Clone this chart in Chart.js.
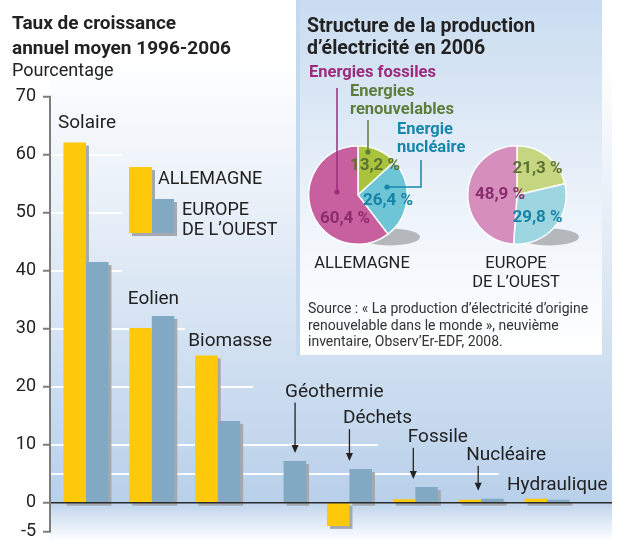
<!DOCTYPE html>
<html>
<head>
<meta charset="utf-8">
<script src="https://cdn.jsdelivr.net/npm/chart.js@4.4.1/dist/chart.umd.min.js"></script>
<style>
  html, body { margin: 0; padding: 0; background: #fff; }
  #wrap { position: relative; width: 618px; height: 543px; }
  canvas { position: absolute; }
</style>
</head>
<body>
<div id="wrap">
  <canvas id="bars" width="618" height="543" style="left:0;top:0"></canvas>
  <canvas id="pieDe" width="180" height="215" style="left:300px;top:55px"></canvas>
  <canvas id="pieEu" width="142" height="160" style="left:460px;top:130px"></canvas>
</div>
<script>
// ---- data ----
const categories = ['Solaire', 'Eolien', 'Biomasse', 'Géothermie', 'Déchets', 'Fossile', 'Nucléaire', 'Hydraulique'];
const allemagne = [62.1, 30.1, 25.4, 0, -4.0, 0.6, 0.5, 0.7];
const europeOuest = [41.5, 32.2, 14.1, 7.2, 5.8, 2.7, 0.7, 0.5];
const seriesNames = [['ALLEMAGNE'], ['EUROPE', 'DE L’OUEST']];
const yTicks = [-5, 0, 10, 20, 30, 40, 50, 60, 70];

const sliceNames = [['Energies', 'renouvelables'], ['Energie', 'nucléaire'], ['Energies fossiles']];
const allemagneMix = [13.2, 26.4, 60.4];
const europeMix = [21.3, 29.8, 48.9];
const pieCaptions = [['ALLEMAGNE'], ['EUROPE', 'DE L’OUEST']];

const titleLines = ['Taux de croissance', 'annuel moyen 1996-2006'];
const unitLabel = 'Pourcentage';
const insetTitle = ['Structure de la production', 'd’électricité en 2006'];
const sourceLines = [
  'Source : « La production d’électricité d’origine',
  'renouvelable dans le monde », neuvième',
  'inventaire, Observ’Er-EDF, 2008.'
];

// ---- style ----
const FONT = 'Roboto, "Noto Sans", sans-serif';
const INK = '#222';
const barColors = ['#fec80b', '#82a9c3'];
const SHADOW = '#a5a8ac';
const AXIS_X = 50;
const PANEL_RIGHT = 612;
// white guide lines: value -> right end (px)
const guideLines = [[5, 499], [10, 378], [20, 253], [30, 185], [40, 122], [50, 122], [60, 122]];
// category label placement: text left offset from category centre, baseline in y units, arrow offset
const labelLayout = [
  { dx: -28, y: 64.6 },
  { dx: -24, y: 34.3 },
  { dx: -29.5, y: 27.1 },
  { dx: 1.5, y: 18.3, arrow: 11.5 },
  { dx: -6.5, y: 13.7, arrow: 0 },
  { dx: -7.5, y: 10.5, arrow: -2 },
  { dx: -15, y: 7.4, arrow: -3 },
  { dx: -40, y: 2.2 }
];
const sliceColors = {
  de: ['#a9c33c', '#6dc5d6', '#c85f9f'],
  eu: ['#c6d680', '#9dd5e1', '#d68ebd']
};
const valueColors = ['#5b7233', '#1884a5', '#8b2c6c'];
const nameColors = ['#5e7d3a', '#1687ab', '#9c2b7b'];
// value label offsets from pie centre
const valueOffsets = {
  de: [[17, -29.5], [30, 6], [-13, 23.5]],
  eu: [[20.5, -26], [20.5, 23], [-17, 0]]
};
// call-outs for the Allemagne pie (offsets from pie centre)
const callouts = [
  { text: [-8, -99], path: [[10, -75], [10, -43]] },
  { text: [39, -61], path: [[63, -35], [63, -8], [29, -8]] },
  { text: [-49, -118], path: [[-21, -107], [-21, -3]] }
];

function txt(ctx, s, x, y, font, color, align) {
  ctx.font = font;
  ctx.fillStyle = color;
  ctx.textAlign = align || 'left';
  ctx.textBaseline = 'alphabetic';
  ctx.fillText(s, x, y);
}

const mainDecor = {
  id: 'mainDecor',
  beforeDraw(chart) {
    const { ctx, scales: { y } } = chart;
    const zero = y.getPixelForValue(0);
    ctx.save();
    let g = ctx.createLinearGradient(0, 60, 0, zero);
    g.addColorStop(0, '#ffffff');
    g.addColorStop(1, '#b9d0ea');
    ctx.fillStyle = g;
    ctx.fillRect(AXIS_X, 0, PANEL_RIGHT - AXIS_X, zero);
    g = ctx.createLinearGradient(0, zero, 0, 541);
    g.addColorStop(0, '#bed4ec');
    g.addColorStop(1, '#ffffff');
    ctx.fillStyle = g;
    ctx.fillRect(AXIS_X, zero, PANEL_RIGHT - AXIS_X, 543 - zero);

    // inset box
    ctx.fillStyle = '#c4d8ee';
    ctx.fillRect(296, 0, 4, 355);
    g = ctx.createLinearGradient(0, 0, 0, 355);
    g.addColorStop(0, '#c9dcf0');
    g.addColorStop(0.7, '#f3f7fc');
    g.addColorStop(1, '#ffffff');
    ctx.fillStyle = g;
    ctx.fillRect(300, 0, 302, 355);

    // titles
    txt(ctx, titleLines[0], 12, 28.5, 'bold 19px ' + FONT, INK);
    txt(ctx, titleLines[1], 12, 53.5, 'bold 19px ' + FONT, INK);
    txt(ctx, unitLabel, 12, 76, '18px ' + FONT, INK);
    txt(ctx, insetTitle[0], 307, 32, 'bold 19.5px ' + FONT, INK);
    txt(ctx, insetTitle[1], 307, 53.5, 'bold 19.5px ' + FONT, INK);

    // pie captions
    txt(ctx, pieCaptions[0][0], 362, 267.5, '16.5px ' + FONT, INK, 'center');
    txt(ctx, pieCaptions[1][0], 516, 267.5, '16.5px ' + FONT, INK, 'center');
    txt(ctx, pieCaptions[1][1], 516, 286.5, '16.5px ' + FONT, INK, 'center');

    // source
    sourceLines.forEach((s, i) => txt(ctx, s, 308, 313 + i * 16.5, '14px ' + FONT, '#333'));
    ctx.restore();
  },
  beforeDatasetsDraw(chart) {
    const { ctx, scales: { y } } = chart;
    ctx.save();
    ctx.strokeStyle = 'rgba(255,255,255,0.95)';
    ctx.lineWidth = 2;
    guideLines.forEach(([v, end]) => {
      const py = Math.round(y.getPixelForValue(v));
      ctx.beginPath();
      ctx.moveTo(AXIS_X, py);
      ctx.lineTo(end, py);
      ctx.stroke();
    });
    // bar shadows
    ctx.fillStyle = SHADOW;
    chart.data.datasets.forEach((ds, di) => {
      chart.getDatasetMeta(di).data.forEach((bar, i) => {
        if (!ds.data[i]) return;
        const { x, y: top, base, width } = bar.getProps(['x', 'y', 'base', 'width'], true);
        ctx.fillRect(x - width / 2 + 3, Math.min(top, base) + 3, width, Math.abs(base - top));
      });
    });
    ctx.restore();
  },
  afterDatasetsDraw(chart) {
    const { ctx, scales: { x, y } } = chart;
    const zero = y.getPixelForValue(0);
    ctx.save();
    // zero line
    ctx.strokeStyle = '#2b2b2b';
    ctx.lineWidth = 1.6;
    ctx.beginPath();
    ctx.moveTo(AXIS_X, zero);
    ctx.lineTo(PANEL_RIGHT, zero);
    ctx.stroke();
    // y axis + ticks
    ctx.strokeStyle = '#7d7d7d';
    ctx.lineWidth = 2;
    ctx.beginPath();
    ctx.moveTo(AXIS_X, y.getPixelForValue(70));
    ctx.lineTo(AXIS_X, y.getPixelForValue(-5));
    yTicks.forEach(v => {
      const py = y.getPixelForValue(v);
      ctx.moveTo(AXIS_X - 7, py);
      ctx.lineTo(AXIS_X + 1, py);
    });
    ctx.stroke();

    // category labels + arrows
    const metaA = chart.getDatasetMeta(0).data;
    const metaB = chart.getDatasetMeta(1).data;
    categories.forEach((name, i) => {
      const lay = labelLayout[i];
      const cx = x.getPixelForValue(i);
      const base = y.getPixelForValue(lay.y);
      txt(ctx, name, cx + lay.dx, base, '19px ' + FONT, INK);
      if (lay.arrow !== undefined) {
        const top = Math.min(metaA[i].y, metaB[i].y, zero);
        const ax = cx + lay.arrow;
        const tip = top - 8;
        ctx.strokeStyle = INK;
        ctx.fillStyle = INK;
        ctx.lineWidth = 1.3;
        ctx.beginPath();
        ctx.moveTo(ax, base + 6);
        ctx.lineTo(ax, tip - 6);
        ctx.stroke();
        ctx.beginPath();
        ctx.moveTo(ax - 3.5, tip - 8);
        ctx.lineTo(ax + 3.5, tip - 8);
        ctx.lineTo(ax, tip);
        ctx.closePath();
        ctx.fill();
      }
    });

    // legend
    ctx.fillStyle = SHADOW;
    ctx.fillRect(132, 170, 23, 66);
    ctx.fillRect(155, 202, 22, 34);
    ctx.fillStyle = barColors[0];
    ctx.fillRect(129, 167, 23, 66);
    ctx.fillStyle = barColors[1];
    ctx.fillRect(152, 199, 22, 34);
    txt(ctx, seriesNames[0][0], 158, 184, '18px ' + FONT, INK);
    txt(ctx, seriesNames[1][0], 182, 215, '18px ' + FONT, INK);
    txt(ctx, seriesNames[1][1], 182, 235, '18px ' + FONT, INK);
    ctx.restore();
  }
};

new Chart(document.getElementById('bars'), {
  type: 'bar',
  data: {
    labels: categories,
    datasets: [
      { label: seriesNames[0].join(' '), data: allemagne, backgroundColor: barColors[0] },
      { label: seriesNames[1].join(' '), data: europeOuest, backgroundColor: barColors[1] }
    ]
  },
  options: {
    responsive: false,
    animation: false,
    events: [],
    layout: { padding: { left: 0, right: 38, top: 96.7, bottom: 11.3 } },
    datasets: { bar: { categoryPercentage: 0.683, barPercentage: 1, borderWidth: 0 } },
    plugins: { legend: { display: false }, tooltip: { enabled: false } },
    scales: {
      x: { display: false },
      y: {
        min: -5,
        max: 70,
        afterBuildTicks: (scale) => { scale.ticks = yTicks.map((v) => ({ value: v })); },
        afterFit: (scale) => { scale.width = 53; },
        grid: { display: false, drawTicks: true, tickLength: 17 },
        border: { display: false },
        ticks: { padding: 0, color: INK, font: { family: FONT, size: 18, lineHeight: 1.1 } }
      }
    }
  },
  plugins: [mainDecor]
});

function fmt(v) {
  return v.toFixed(1).replace('.', ',') + ' %';
}

function pieDecor(key, withCallouts) {
  return {
    id: 'pieDecor',
    beforeDatasetsDraw(chart) {
      const arc = chart.getDatasetMeta(0).data[0];
      const { ctx } = chart;
      ctx.save();
      ctx.fillStyle = '#b4b8bd';
      ctx.beginPath();
      ctx.ellipse(arc.x + 32, arc.y + 42, 30, 8.5, 0, 0, Math.PI * 2);
      ctx.fill();
      ctx.restore();
    },
    afterDatasetsDraw(chart) {
      const arc = chart.getDatasetMeta(0).data[0];
      const cx = arc.x, cy = arc.y;
      const { ctx } = chart;
      ctx.save();
      chart.data.datasets[0].data.forEach((v, i) => {
        const [dx, dy] = valueOffsets[key][i];
        ctx.font = 'bold 17px ' + FONT;
        ctx.fillStyle = valueColors[i];
        ctx.textAlign = 'center';
        ctx.textBaseline = 'middle';
        ctx.fillText(fmt(v), cx + dx, cy + dy);
      });
      if (withCallouts) {
        callouts.forEach((c, i) => {
          sliceNames[i].forEach((line, k) => {
            txt(ctx, line, cx + c.text[0], cy + c.text[1] + k * 17.5, 'bold 16.5px ' + FONT, nameColors[i]);
          });
          ctx.strokeStyle = nameColors[i];
          ctx.fillStyle = nameColors[i];
          ctx.lineWidth = 1.5;
          ctx.beginPath();
          c.path.forEach(([px, py], k) => {
            if (k === 0) ctx.moveTo(cx + px, cy + py); else ctx.lineTo(cx + px, cy + py);
          });
          ctx.stroke();
          const [ex, ey] = c.path[c.path.length - 1];
          ctx.beginPath();
          ctx.arc(cx + ex, cy + ey, 2.6, 0, Math.PI * 2);
          ctx.fill();
        });
      }
      ctx.restore();
    }
  };
}

function makePie(id, values, key, padding, withCallouts) {
  return new Chart(document.getElementById(id), {
    type: 'pie',
    data: {
      labels: sliceNames.map((l) => l.join(' ')),
      datasets: [{
        data: values,
        backgroundColor: sliceColors[key],
        borderColor: '#ffffff',
        borderWidth: 1.5,
        hoverOffset: 0
      }]
    },
    options: {
      responsive: false,
      animation: false,
      events: [],
      layout: { padding },
      plugins: { legend: { display: false }, tooltip: { enabled: false } }
    },
    plugins: [pieDecor(key, withCallouts)]
  });
}

makePie('pieDe', allemagneMix, 'de', { left: 8, top: 90, right: 72, bottom: 25 }, true);
makePie('pieEu', europeMix, 'eu', { left: 7, top: 15, right: 35, bottom: 45 }, false);
</script>
</body>
</html>
